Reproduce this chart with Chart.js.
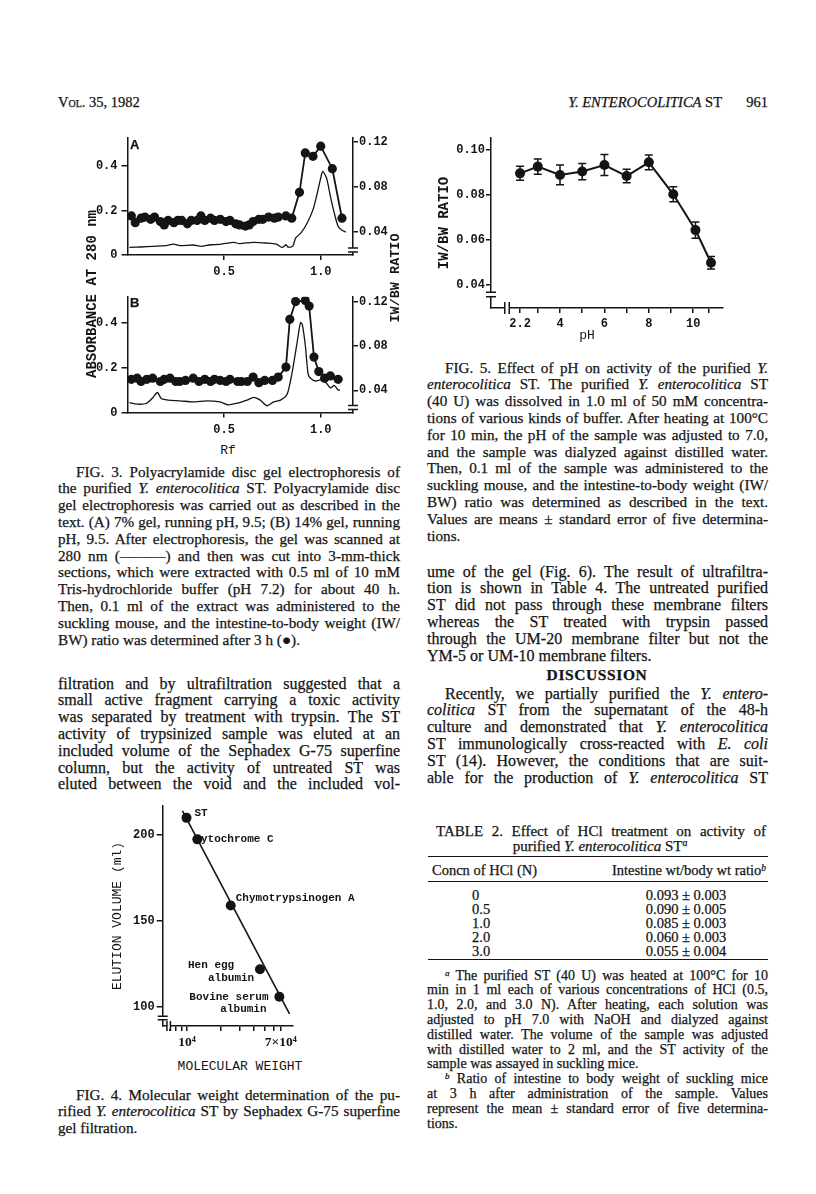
<!DOCTYPE html>
<html>
<head>
<meta charset="utf-8">
<title>Y. enterocolitica ST, p. 961</title>
<script src="https://cdn.jsdelivr.net/npm/chart.js@4.4.1/dist/chart.umd.min.js"></script>
<style>
  html, body { margin: 0; padding: 0; background: #fff; }
  #page { position: relative; width: 816px; height: 1194px; overflow: hidden;
          font-family: "Liberation Serif", "Times New Roman", serif; color: #141414;
          -webkit-text-stroke: 0.25px #141414; }
  .blk { position: absolute; }
  .cap { font-size: 15.2px; line-height: 16.8px; }
  .txt { font-size: 16px; line-height: 16.8px; }
  .fn  { font-size: 14px; line-height: 14.8px; }
  .ln  { white-space: nowrap; text-align: justify; text-align-last: justify; }
  .ln.end { text-align-last: left; }
  .ind { text-indent: 18px; }
  .mono { font-family: "Liberation Mono", "DejaVu Sans Mono", monospace; font-weight: bold; -webkit-text-stroke: 0; }
  .vt { position: absolute; transform: translate(-50%, -50%) rotate(-90deg); white-space: nowrap; }
  .ct { position: absolute; transform: translate(-50%, -50%); white-space: nowrap; }
  .rule { position: absolute; left: 428px; width: 340px; border-top: 1.5px solid #141414; }
  canvas { position: absolute; }
  sup { font-size: 0.65em; line-height: 0; vertical-align: 0.45em; }
</style>
</head>
<body>
<div id="page">

  <!-- running head -->
  <div class="blk" style="left:58px;top:94px;font-size:14.5px;font-variant:small-caps">Vol. 35, 1982</div>
  <div class="blk" style="right:94px;top:94px;font-size:14.5px"><i>Y. ENTEROCOLITICA</i> ST</div>
  <div class="blk" style="right:48px;top:94px;font-size:14.5px">961</div>

  <!-- FIG. 3 -->
  <canvas id="fig3a" width="400" height="150" style="left:20px;top:125px;width:400px;height:150px"></canvas>
  <canvas id="fig3b" width="400" height="150" style="left:20px;top:284px;width:400px;height:150px"></canvas>
  <div class="blk" style="left:130px;top:137px;font:bold 13px 'Liberation Sans',sans-serif">A</div>
  <div class="blk" style="left:130px;top:295px;font:bold 13px 'Liberation Sans',sans-serif">B</div>
  <div class="vt mono" style="left:92px;top:294px;font-size:14px">ABSORBANCE AT 280 nm</div>
  <div class="vt mono" style="left:395px;top:278px;font-size:13.5px">IW/BW RATIO</div>
  <div class="ct mono" style="left:228px;top:450px;font-size:13px;font-weight:normal">Rf</div>

  <div class="blk cap" style="left:58px;top:463.6px;width:342px">
    <div class="ln ind">FIG. 3. Polyacrylamide disc gel electrophoresis of</div>
    <div class="ln">the purified <i>Y. enterocolitica</i> ST. Polyacrylamide disc</div>
    <div class="ln">gel electrophoresis was carried out as described in the</div>
    <div class="ln">text. (A) 7% gel, running pH, 9.5; (B) 14% gel, running</div>
    <div class="ln">pH, 9.5. After electrophoresis, the gel was scanned at</div>
    <div class="ln">280 nm (———) and then was cut into 3-mm-thick</div>
    <div class="ln">sections, which were extracted with 0.5 ml of 10 mM</div>
    <div class="ln">Tris-hydrochloride buffer (pH 7.2) for about 40 h.</div>
    <div class="ln">Then, 0.1 ml of the extract was administered to the</div>
    <div class="ln">suckling mouse, and the intestine-to-body weight (IW/</div>
    <div class="ln end">BW) ratio was determined after 3 h (●).</div>
  </div>

  <div class="blk txt" style="left:58px;top:675.6px;width:342px">
    <div class="ln">filtration and by ultrafiltration suggested that a</div>
    <div class="ln">small active fragment carrying a toxic activity</div>
    <div class="ln">was separated by treatment with trypsin. The ST</div>
    <div class="ln">activity of trypsinized sample was eluted at an</div>
    <div class="ln">included volume of the Sephadex G-75 superfine</div>
    <div class="ln">column, but the activity of untreated ST was</div>
    <div class="ln">eluted between the void and the included vol-</div>
  </div>

  <!-- FIG. 4 -->
  <canvas id="fig4" width="270" height="260" style="left:100px;top:795px;width:270px;height:260px"></canvas>
  <div class="ct mono" style="left:240px;top:1066px;font-size:13px;font-weight:normal">MOLECULAR WEIGHT</div>

  <div class="blk cap" style="left:58px;top:1086.6px;width:342px">
    <div class="ln ind">FIG. 4. Molecular weight determination of the pu-</div>
    <div class="ln">rified <i>Y. enterocolitica</i> ST by Sephadex G-75 superfine</div>
    <div class="ln end">gel filtration.</div>
  </div>

  <!-- FIG. 5 -->
  <canvas id="fig5" width="330" height="215" style="left:420px;top:125px;width:330px;height:215px"></canvas>
  <div class="ct mono" style="left:587px;top:335px;font-size:13px;font-weight:normal">pH</div>

  <div class="blk cap" style="left:427px;top:359.6px;width:341px">
    <div class="ln ind">FIG. 5. Effect of pH on activity of the purified <i>Y.</i></div>
    <div class="ln"><i>enterocolitica</i> ST. The purified <i>Y. enterocolitica</i> ST</div>
    <div class="ln">(40 U) was dissolved in 1.0 ml of 50 mM concentra-</div>
    <div class="ln">tions of various kinds of buffer. After heating at 100°C</div>
    <div class="ln">for 10 min, the pH of the sample was adjusted to 7.0,</div>
    <div class="ln">and the sample was dialyzed against distilled water.</div>
    <div class="ln">Then, 0.1 ml of the sample was administered to the</div>
    <div class="ln">suckling mouse, and the intestine-to-body weight (IW/</div>
    <div class="ln">BW) ratio was determined as described in the text.</div>
    <div class="ln">Values are means ± standard error of five determina-</div>
    <div class="ln end">tions.</div>
  </div>

  <div class="blk txt" style="left:427px;top:563.6px;width:341px">
    <div class="ln">ume of the gel (Fig. 6). The result of ultrafiltra-</div>
    <div class="ln">tion is shown in Table 4. The untreated purified</div>
    <div class="ln">ST did not pass through these membrane filters</div>
    <div class="ln">whereas the ST treated with trypsin passed</div>
    <div class="ln">through the UM-20 membrane filter but not the</div>
    <div class="ln end">YM-5 or UM-10 membrane filters.</div>
  </div>

  <div class="ct" style="left:597px;top:675px;font-size:15.5px;font-weight:bold;letter-spacing:0.6px">DISCUSSION</div>

  <div class="blk txt" style="left:427px;top:685.6px;width:341px">
    <div class="ln ind">Recently, we partially purified the <i>Y. entero-</i></div>
    <div class="ln"><i>colitica</i> ST from the supernatant of the 48-h</div>
    <div class="ln">culture and demonstrated that <i>Y. enterocolitica</i></div>
    <div class="ln">ST immunologically cross-reacted with <i>E. coli</i></div>
    <div class="ln">ST (14). However, the conditions that are suit-</div>
    <div class="ln">able for the production of <i>Y. enterocolitica</i> ST</div>
  </div>

  <!-- TABLE 2 -->
  <div class="blk" style="left:436px;top:822.5px;width:330px;font-size:15px;line-height:16px">
    <div class="ln">TABLE 2. Effect of HCl treatment on activity of</div>
  </div>
  <div class="ct" style="left:600px;top:846px;font-size:15px">purified <i>Y. enterocolitica</i> ST<sup><i>a</i></sup></div>
  <div class="rule" style="top:856px"></div>
  <div class="blk" style="left:432px;top:862px;font-size:14.5px">Concn of HCl (N)</div>
  <div class="blk" style="right:50px;top:862px;font-size:14.5px">Intestine wt/body wt ratio<sup><i>b</i></sup></div>
  <div class="rule" style="top:881px;border-top-width:1px"></div>
  <div id="t2rows"></div>
  <div class="rule" style="top:959px"></div>

  <div class="blk fn" style="left:427px;top:968.6px;width:341px">
    <div class="ln ind"><sup><i>a</i></sup> The purified ST (40 U) was heated at 100°C for 10</div>
    <div class="ln">min in 1 ml each of various concentrations of HCl (0.5,</div>
    <div class="ln">1.0, 2.0, and 3.0 N). After heating, each solution was</div>
    <div class="ln">adjusted to pH 7.0 with NaOH and dialyzed against</div>
    <div class="ln">distilled water. The volume of the sample was adjusted</div>
    <div class="ln">with distilled water to 2 ml, and the ST activity of the</div>
    <div class="ln end">sample was assayed in suckling mice.</div>
    <div class="ln ind"><sup><i>b</i></sup> Ratio of intestine to body weight of suckling mice</div>
    <div class="ln">at 3 h after administration of the sample. Values</div>
    <div class="ln">represent the mean ± standard error of five determina-</div>
    <div class="ln end">tions.</div>
  </div>
</div>

<script>
// ---------- Fig. 3A: 7% gel ----------
// IW/BW ratio of each gel slice (dots, right axis)
const rfSlicesA = [0.02, 0.04, 0.07, 0.09, 0.12, 0.14, 0.17, 0.19, 0.21, 0.24,
                   0.26, 0.28, 0.31, 0.33, 0.36, 0.38, 0.40, 0.43, 0.45, 0.48,
                   0.51, 0.53, 0.56, 0.58, 0.61, 0.63, 0.65, 0.68, 0.70, 0.73,
                   0.76, 0.78, 0.82, 0.85, 0.89, 0.92, 0.96, 1.00, 1.06, 1.11];
const ratioA = [0.054, 0.048, 0.052, 0.053, 0.051, 0.053, 0.049, 0.046, 0.050, 0.048,
                0.050, 0.050, 0.047, 0.050, 0.050, 0.054, 0.050, 0.052, 0.050, 0.051,
                0.049, 0.050, 0.047, 0.046, 0.045, 0.046, 0.049, 0.051, 0.051, 0.053,
                0.052, 0.053, 0.054, 0.052, 0.075, 0.110, 0.107, 0.116, 0.096, 0.052];
// absorbance scan at 280 nm (line, left axis)
const rfScanA = [0.01, 0.07, 0.13, 0.20, 0.24, 0.27, 0.34, 0.38, 0.43, 0.48,
                 0.55, 0.58, 0.65, 0.72, 0.77, 0.80, 0.82, 0.83, 0.855, 0.87,
                 0.90, 0.93, 0.96, 0.98, 1.00, 1.01, 1.03, 1.05, 1.07, 1.09, 1.11, 1.13];
const absA = [0.034, 0.036, 0.039, 0.042, 0.049, 0.042, 0.045, 0.039, 0.046, 0.048,
              0.057, 0.051, 0.057, 0.054, 0.049, 0.034, 0.046, 0.036, 0.039, 0.076,
              0.102, 0.144, 0.204, 0.271, 0.346, 0.376, 0.346, 0.264, 0.189, 0.129, 0.111, 0.103];

// ---------- Fig. 3B: 14% gel ----------
const rfSlicesB = [0.02, 0.05, 0.07, 0.10, 0.13, 0.17, 0.19, 0.22, 0.25, 0.27,
                   0.30, 0.34, 0.37, 0.40, 0.43, 0.45, 0.48, 0.51, 0.53, 0.57,
                   0.59, 0.62, 0.65, 0.68, 0.71, 0.75, 0.78, 0.82, 0.84, 0.87,
                   0.92, 0.94, 0.965, 0.99, 1.02, 1.05, 1.09];
const ratioB = [0.050, 0.051, 0.048, 0.050, 0.051, 0.048, 0.050, 0.051, 0.048, 0.048,
                0.049, 0.051, 0.048, 0.050, 0.048, 0.050, 0.049, 0.048, 0.050, 0.048,
                0.048, 0.048, 0.052, 0.047, 0.049, 0.049, 0.052, 0.061, 0.104, 0.120,
                0.121, 0.116, 0.070, 0.057, 0.051, 0.053, 0.050];
const rfScanB = [0.01, 0.05, 0.097, 0.132, 0.155, 0.175, 0.21, 0.271, 0.34, 0.41,
                 0.479, 0.522, 0.566, 0.618, 0.653, 0.687, 0.722, 0.757, 0.792, 0.826,
                 0.852, 0.875, 0.895, 0.905, 0.92, 0.935, 0.95, 0.975, 1.0, 1.03,
                 1.05, 1.07, 1.09, 1.10];
const absB = [0.044, 0.037, 0.040, 0.067, 0.089, 0.062, 0.055, 0.052, 0.047, 0.052,
              0.047, 0.034, 0.041, 0.055, 0.067, 0.055, 0.030, 0.047, 0.055, 0.081,
              0.178, 0.296, 0.400, 0.390, 0.300, 0.170, 0.150, 0.140, 0.145, 0.130,
              0.110, 0.120, 0.100, 0.100];

const rfTicks = [0.5, 1.0];
const rfTickLabels = ['0.5', '1.0'];
const absTicks = [0, 0.2, 0.4];
const absTickLabels = ['0', '0.2', '0.4'];
const gelRatioTicks = [0.04, 0.08, 0.12];
const gelRatioTickLabels = ['0.04', '0.08', '0.12'];

// ---------- Fig. 5: pH stability ----------
const phValues = [2.2, 3, 4, 5, 6, 7, 8, 9.1, 10.1, 10.8];
const phRatio = [0.0896, 0.0926, 0.0889, 0.0904, 0.0933, 0.0884, 0.0945, 0.0803, 0.0644, 0.0499];
const phRatioSE = [0.0031, 0.0034, 0.0044, 0.0036, 0.0047, 0.0030, 0.0033, 0.0033, 0.0036, 0.0028];
const phTicks = [2.2, 3, 4, 5, 6, 7, 8, 9, 10, 10.7];
const phTickLabels = ['2.2', '', '4', '', '6', '', '8', '', '10', ''];
const phRatioTicks = [0.04, 0.06, 0.08, 0.10];
const phRatioTickLabels = ['0.04', '0.06', '0.08', '0.10'];

// ---------- Fig. 4: Sephadex G-75 calibration ----------
const proteinNames = [['ST'], ['Cytochrome C'], ['Chymotrypsinogen A'],
                      ['Hen egg', 'albumin'], ['Bovine serum', 'albumin']];
const molWeights = [9900, 12400, 24800, 45500, 68000];
const elutionVol = [210, 197.5, 159, 122, 106];
const fitLineMW = [9100, 84000];
const fitLineVol = [214, 96];
const mwTicks = [7000, 8000, 9000, 10000, 20000, 30000, 40000, 50000, 60000, 70000];
const mwTickLabels = ['', '', '', '10⁴', '', '', '', '', '', '7×10⁴'];
const volTicks = [100, 150, 200];
const volTickLabels = ['100', '150', '200'];

// ---------- Table 2 ----------
const hclConc = ['0', '0.5', '1.0', '2.0', '3.0'];
const hclRatio = [0.093, 0.090, 0.085, 0.060, 0.055];
const hclSE = [0.003, 0.005, 0.003, 0.003, 0.004];

const ink = '#141414';
const monoFamily = '"Liberation Mono", "DejaVu Sans Mono", monospace';
const tickFont = { family: monoFamily, size: 12, weight: 'bold' };

Chart.defaults.animation = false;
Chart.defaults.color = ink;
Chart.defaults.font.family = monoFamily;

function pts(xs, ys) {
    return xs.map((x, i) => ({ x: x, y: ys[i] }));
}

// one axis with outward tick marks and only the given ticks
function axis(o) {
    return {
        type: o.type || 'linear',
        position: o.position,
        min: o.min,
        max: o.max,
        afterFit: o.fit,
        afterBuildTicks: s => { s.ticks = o.ticks.map(v => ({ value: v })); },
        grid: { display: true, drawOnChartArea: false, drawTicks: true,
                tickLength: o.tickLength || 5, color: ink, lineWidth: 1.5 },
        border: { display: true, color: ink, width: 1.5 },
        ticks: { color: ink, font: o.font || tickFont, padding: o.padding, autoSkip: false,
                 maxRotation: 0, minRotation: 0, callback: (v, i) => o.labels[i] },
        title: o.title || { display: false }
    };
}

// broken-axis marks (two short parallel strokes with a white gap)
const axisBreaks = {
    id: 'axisBreaks',
    afterDraw(chart, args, opts) {
        const ctx = chart.ctx;
        const a = chart.chartArea;
        ctx.save();
        ctx.strokeStyle = ink;
        ctx.lineWidth = 1.5;
        (opts.marks || []).forEach(m => {
            ctx.fillStyle = '#fff';
            ctx.beginPath();
            if (m.side === 'bottom') {
                const x = a.left + m.at, y = a.bottom;
                ctx.fillRect(x - m.gap / 2, y - 3, m.gap, 6);
                ctx.moveTo(x - m.gap / 2, y - m.len); ctx.lineTo(x - m.gap / 2, y + m.len);
                ctx.moveTo(x + m.gap / 2, y - m.len); ctx.lineTo(x + m.gap / 2, y + m.len);
            } else {
                const x = m.side === 'left' ? a.left : a.right, y = a.bottom - m.at;
                ctx.fillRect(x - 3, y - m.gap / 2, 6, m.gap);
                ctx.moveTo(x - m.len, y - m.gap / 2); ctx.lineTo(x + m.len, y - m.gap / 2);
                ctx.moveTo(x - m.len, y + m.gap / 2); ctx.lineTo(x + m.len, y + m.gap / 2);
            }
            ctx.stroke();
        });
        ctx.restore();
    }
};

// ---- Fig. 3 panels ----
function gelChart(id, rfSlices, ratio, rfScan, abs, absMax, ratioMin, ratioMax, padTop, xHeight) {
    new Chart(document.getElementById(id), {
        type: 'scatter',
        data: {
            datasets: [{
                data: pts(rfSlices, ratio),
                yAxisID: 'y2',
                showLine: true,
                borderColor: ink,
                borderWidth: 1.8,
                backgroundColor: ink,
                pointRadius: 4.6,
                pointBorderWidth: 0
            }, {
                data: pts(rfScan, abs),
                yAxisID: 'y',
                showLine: true,
                borderColor: ink,
                borderWidth: 1.3,
                tension: 0.25,
                pointRadius: 0
            }]
        },
        options: {
            responsive: false,
            events: [],
            layout: { padding: { top: padTop, left: 0, right: 0, bottom: 0 } },
            plugins: { legend: { display: false }, tooltip: { enabled: false },
                       axisBreaks: { marks: [{ side: 'right', at: 5, gap: 4, len: 5 }] } },
            scales: {
                x: axis({ position: 'bottom', min: 0, max: 1.167, ticks: rfTicks, labels: rfTickLabels,
                          padding: 5, fit: s => { s.height = xHeight; } }),
                y: axis({ position: 'left', min: 0, max: absMax, ticks: absTicks, labels: absTickLabels,
                          tickLength: 6, padding: 4, fit: s => { s.width = 107.5; } }),
                y2: axis({ position: 'right', min: ratioMin, max: ratioMax, ticks: gelRatioTicks,
                           labels: gelRatioTickLabels, padding: 1, fit: s => { s.width = 67; } })
            }
        },
        plugins: [axisBreaks]
    });
}

gelChart('fig3a', rfSlicesA, ratioA, rfScanA, absA, 0.526, 0.0193, 0.1233, 13, 20);
gelChart('fig3b', rfSlicesB, ratioB, rfScanB, absB, 0.515, 0.0201, 0.1244, 12.7, 21.5);

// ---- Fig. 5 ----
const errorBars = {
    id: 'errorBars',
    afterDatasetsDraw(chart) {
        const ctx = chart.ctx;
        const ys = chart.scales.y;
        ctx.save();
        ctx.strokeStyle = ink;
        ctx.lineWidth = 1.5;
        chart.getDatasetMeta(0).data.forEach((p, i) => {
            const top = ys.getPixelForValue(phRatio[i] + phRatioSE[i]);
            const bot = ys.getPixelForValue(phRatio[i] - phRatioSE[i]);
            ctx.beginPath();
            ctx.moveTo(p.x, top); ctx.lineTo(p.x, bot);
            ctx.moveTo(p.x - 4, top); ctx.lineTo(p.x + 4, top);
            ctx.moveTo(p.x - 4, bot); ctx.lineTo(p.x + 4, bot);
            ctx.stroke();
        });
        ctx.restore();
    }
};

new Chart(document.getElementById('fig5'), {
    type: 'scatter',
    data: {
        datasets: [{
            data: pts(phValues, phRatio),
            showLine: true,
            borderColor: ink,
            borderWidth: 2,
            backgroundColor: ink,
            pointRadius: 5,
            pointBorderWidth: 0
        }]
    },
    options: {
        responsive: false,
        events: [],
        layout: { padding: { top: 13, right: 27, left: 0, bottom: 0 } },
        plugins: { legend: { display: false }, tooltip: { enabled: false },
                   axisBreaks: { marks: [{ side: 'left', at: 13.5, gap: 4.5, len: 5 },
                                         { side: 'bottom', at: 16, gap: 4.5, len: 6 }] } },
        scales: {
            x: axis({ position: 'bottom', min: 0.892, max: 11.34, ticks: phTicks, labels: phTickLabels,
                      padding: 4, fit: s => { s.height = 32; } }),
            y: axis({ position: 'left', min: 0.0298, max: 0.1053, ticks: phRatioTicks,
                      labels: phRatioTickLabels, padding: 1, fit: s => { s.width = 71; },
                      title: { display: true, text: 'IW/BW RATIO', color: ink,
                               font: { family: monoFamily, size: 14, weight: 'bold' },
                               padding: { top: 15.6, bottom: 0 } } })
        }
    },
    plugins: [errorBars, axisBreaks]
});

// ---- Fig. 4 ----
const noteOffsets = [[[8, -5]], [[-3, 0]], [[5, -7]], [[-72, -4], [-52, 9]], [[-90, 1], [-59, 13]]];
const pointNotes = {
    id: 'pointNotes',
    beforeDatasetsDraw(chart) {
        const ctx = chart.ctx;
        ctx.save();
        ctx.font = 'bold 11px ' + monoFamily;
        ctx.fillStyle = ink;
        ctx.textBaseline = 'middle';
        chart.getDatasetMeta(0).data.forEach((p, i) => {
            proteinNames[i].forEach((line, j) => {
                ctx.fillText(line, p.x + noteOffsets[i][j][0], p.y + noteOffsets[i][j][1]);
            });
        });
        ctx.restore();
    }
};

new Chart(document.getElementById('fig4'), {
    type: 'scatter',
    data: {
        datasets: [{
            data: pts(molWeights, elutionVol),
            backgroundColor: ink,
            pointRadius: 5,
            pointBorderWidth: 0
        }, {
            data: pts(fitLineMW, fitLineVol),
            showLine: true,
            borderColor: ink,
            borderWidth: 1.6,
            pointRadius: 0
        }]
    },
    options: {
        responsive: false,
        events: [],
        layout: { padding: { top: 11, right: 77, left: 0, bottom: 0 } },
        plugins: { legend: { display: false }, tooltip: { enabled: false },
                   axisBreaks: { marks: [{ side: 'left', at: 8, gap: 3.5, len: 5 },
                                         { side: 'bottom', at: 6, gap: 3.5, len: 5 }] } },
        scales: {
            x: axis({ type: 'logarithmic', position: 'bottom', min: 6040, max: 90300,
                      ticks: mwTicks, labels: mwTickLabels, padding: 3,
                      font: { family: '"Liberation Serif", serif', size: 13.5, weight: 'bold' },
                      fit: s => { s.height = 29; } }),
            y: axis({ position: 'left', min: 88.95, max: 216.9, ticks: volTicks, labels: volTickLabels,
                      tickLength: 6, padding: 2, fit: s => { s.width = 62.7; },
                      title: { display: true, text: 'ELUTION VOLUME (ml)', color: ink,
                               font: { family: monoFamily, size: 13, weight: 'normal' },
                               padding: { top: 10, bottom: 0 } } })
        }
    },
    plugins: [pointNotes, axisBreaks]
});

// ---- Table 2 rows ----
const rows = document.getElementById('t2rows');
hclConc.forEach((c, i) => {
    const top = 886.5 + i * 14;
    rows.insertAdjacentHTML('beforeend',
        `<div class="blk" style="left:472px;top:${top}px;font-size:14.5px">${c}</div>` +
        `<div class="blk" style="left:686px;top:${top}px;font-size:14.5px;transform:translateX(-50%);white-space:nowrap">` +
        `${hclRatio[i].toFixed(3)} ± ${hclSE[i].toFixed(3)}</div>`);
});
</script>
</body>
</html>
